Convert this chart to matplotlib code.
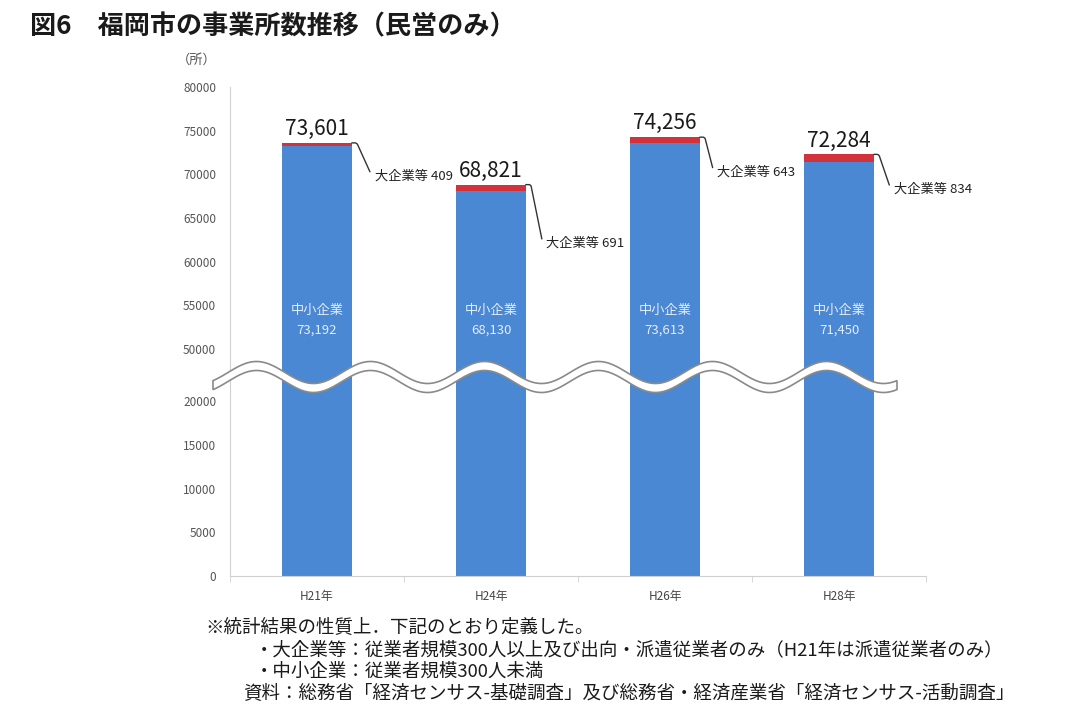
import matplotlib
matplotlib.use("Agg")
import matplotlib.pyplot as plt
from matplotlib.patches import Polygon
import numpy as np

plt.rcParams['font.family'] = ['Noto Sans CJK JP', 'DejaVu Sans']

# data
years = ['H21年', 'H24年', 'H26年', 'H28年']
sme = [73192, 68130, 73613, 71450]      # 中小企業
large = [409, 691, 643, 834]            # 大企業等
totals = [73601, 68821, 74256, 72284]
yticks = [0, 5000, 10000, 15000, 20000, 50000, 55000, 60000, 65000, 70000, 75000, 80000]

# leader label offsets (pixels) from bar top-right corner
leader_off = [(23, -33), (20, -59), (17, -35), (20, -35)]

# broken axis: 20000..50000 squeezed into a small gap
LO, HI, GAP = 20000, 50000, 6000


def fwd(v):
    v = np.asarray(v, dtype=float)
    return np.where(v <= LO, v,
                    np.where(v >= HI, v - (HI - LO) + GAP,
                             LO + (v - LO) * GAP / (HI - LO)))


def inv(t):
    t = np.asarray(t, dtype=float)
    return np.where(t <= LO, t,
                    np.where(t >= LO + GAP, t + (HI - LO) - GAP,
                             LO + (t - LO) * (HI - LO) / GAP))


W, H = 1080, 722
fig = plt.figure(figsize=(W / 100, H / 100), dpi=100)
ax = fig.add_axes([230 / W, 1 - 576 / H, 696 / W, 489 / H])
ax.set_yscale('function', functions=(fwd, inv))
ax.set_ylim(0, 80000)
ax.set_xlim(-0.5, 3.5)

blue = '#4A88D4'
red = '#D2323C'
x = np.arange(len(years))
bw = 0.4
ax.bar(x, sme, width=bw, color=blue, zorder=2)
ax.bar(x, large, width=bw, bottom=sme, color=red, zorder=2)

for i in range(len(years)):
    ax.annotate(f'{totals[i]:,}', xy=(x[i], totals[i]), xytext=(0, 2),
                textcoords='offset points', ha='center', va='bottom',
                fontsize=15, color='#1a1a1a')
    ax.text(x[i], 54400, '中小企業', ha='center', va='center', fontsize=9.5, color='#e4edf8')
    ax.text(x[i], 52200, f'{sme[i]:,}', ha='center', va='center', fontsize=9.5, color='#e4edf8')
    dx, dy = leader_off[i]
    ax.annotate(f'大企業等 {large[i]}', xy=(x[i] + bw / 2, totals[i]),
                xytext=(dx, dy), textcoords='offset pixels', ha='left', va='center',
                fontsize=9.5, color='#222222',
                arrowprops=dict(arrowstyle='-', color='#333333', lw=1.0,
                                relpos=(0, 0.5), shrinkA=3, shrinkB=0,
                                connectionstyle='arc,angleA=180,armA=3,angleB=0,armB=5,rad=2'))

ax.set_yticks(yticks)
ax.set_yticklabels([str(v) for v in yticks])
ax.tick_params(axis='y', length=0, pad=10, labelsize=8.5, labelcolor='#555555')
ax.set_xticks(x)
ax.set_xticklabels(years)
ax.tick_params(axis='x', which='major', length=0, pad=10, labelsize=8.5, labelcolor='#444444')
ax.set_xticks(np.arange(-0.5, 4, 1), minor=True)
ax.tick_params(axis='x', which='minor', length=4, color='#d0d0d0')
for s in ['top', 'right']:
    ax.spines[s].set_visible(False)
for s in ['left', 'bottom']:
    ax.spines[s].set_color('#d0d0d0')

# wavy break band
xs = np.linspace(-17 / 696, 667 / 696, 400)
cy = (576 - 377) / 489
amp = 11 / 489
half = 4.5 / 489
period = 114 / 696
x0 = (228 - 230) / 696
yc = cy + amp * np.sin(2 * np.pi * (xs - x0) / period)
pts = np.concatenate([np.column_stack([xs, yc + half]),
                      np.column_stack([xs[::-1], (yc - half)[::-1]])])
ax.add_patch(Polygon(pts, closed=True, transform=ax.transAxes, facecolor='white',
                     edgecolor='#8a8a8a', lw=1.2, clip_on=False, zorder=5))

# titles and notes
fig.text(30 / W, 1 - 27 / H, '図6　福岡市の事業所数推移（民営のみ）', fontsize=18.8,
         fontweight='bold', color='#1a1a1a', va='center', ha='left')
fig.text(197 / W, 1 - 60 / H, '（所）', fontsize=9.5, color='#555555', va='center', ha='center')
fs = 13.3
fig.text(205 / W, 1 - 627 / H, '※統計結果の性質上．下記のとおり定義した。', fontsize=fs,
         color='#1a1a1a', va='center', ha='left')
fig.text(255 / W, 1 - 650 / H, '・大企業等：従業者規模300人以上及び出向・派遣従業者のみ（H21年は派遣従業者のみ）',
         fontsize=fs, color='#1a1a1a', va='center', ha='left')
fig.text(255 / W, 1 - 672 / H, '・中小企業：従業者規模300人未満', fontsize=fs,
         color='#1a1a1a', va='center', ha='left')
fig.text(243 / W, 1 - 694 / H, '資料：総務省「経済センサス-基礎調査」及び総務省・経済産業省「経済センサス-活動調査」',
         fontsize=fs, color='#1a1a1a', va='center', ha='left')

fig.savefig('out.png', dpi=100)
